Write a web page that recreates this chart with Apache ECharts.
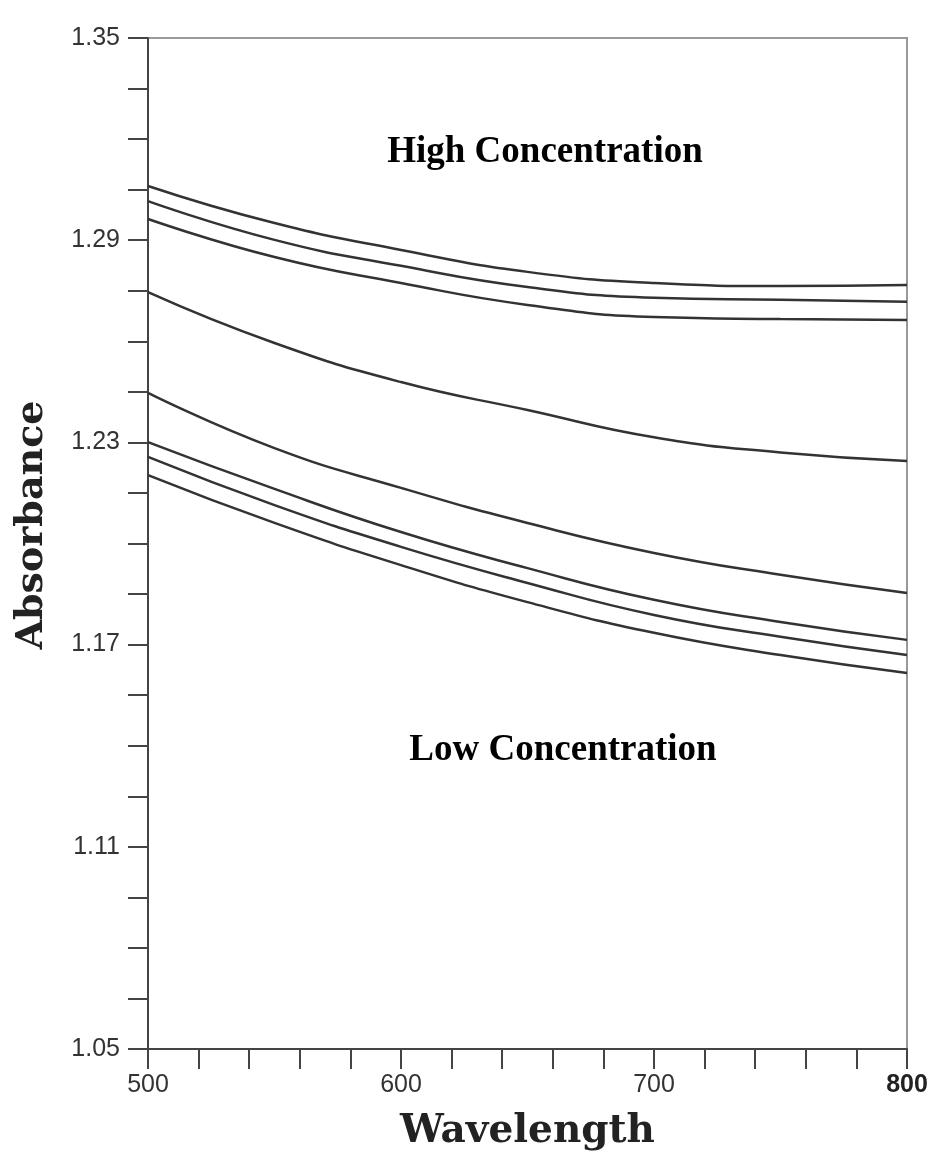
<!DOCTYPE html>
<html>
<head>
<meta charset="utf-8">
<script src="https://cdn.jsdelivr.net/npm/echarts@6/dist/echarts.min.js"></script>
<style>
  html, body { margin: 0; padding: 0; background: #fff; }
  #chart { width: 936px; height: 1172px; }
</style>
</head>
<body>
<div id="chart"></div>
<script>
var myChart = echarts.init(document.getElementById('chart'));

var lineColor = '#333';
var axisColor = '#444';

// wavelength samples (nm)
var wavelengths = [500, 550, 600, 650, 700, 750, 800];

// absorbance curves, top to bottom
var curve1 = [1.3061, 1.2951, 1.2871, 1.2806, 1.2773, 1.2764, 1.2767];
var curve2 = [1.3016, 1.2901, 1.2824, 1.2761, 1.2729, 1.2723, 1.2717];
var curve3 = [1.2963, 1.2850, 1.2773, 1.2708, 1.2672, 1.2666, 1.2663];
var curve4 = [1.2746, 1.2595, 1.2479, 1.2396, 1.2315, 1.2270, 1.2245];
var curve5 = [1.2447, 1.2283, 1.2165, 1.2061, 1.1972, 1.1907, 1.1853];
var curve6 = [1.2301, 1.2162, 1.2034, 1.1927, 1.1833, 1.1767, 1.1714];
var curve7 = [1.2257, 1.2114, 1.1990, 1.1883, 1.1788, 1.1723, 1.1669];
var curve8 = [1.2203, 1.2061, 1.1936, 1.1826, 1.1735, 1.1669, 1.1616];

var curves = [curve1, curve2, curve3, curve4, curve5, curve6, curve7, curve8];

var series = curves.map(function (c) {
    return {
        type: 'line',
        smooth: true,
        symbol: 'none',
        lineStyle: { color: lineColor, width: 2.5 },
        data: wavelengths.map(function (w, i) { return [w, c[i]]; })
    };
});

option = {
    backgroundColor: '#fff',
    animation: false,
    grid: {
        left: 148,
        right: 29,
        top: 38,
        bottom: 123,
        show: true,
        borderColor: '#999',
        borderWidth: 2
    },
    xAxis: {
        type: 'value',
        min: 500,
        max: 800,
        interval: 20,
        name: 'Wavelength',
        nameLocation: 'middle',
        nameGap: 63,
        nameTextStyle: {
            fontFamily: 'DejaVu Serif',
            fontWeight: 'bold',
            fontSize: 39,
            color: '#222'
        },
        axisLine: { lineStyle: { color: axisColor, width: 2 } },
        axisTick: { length: 20, lineStyle: { color: axisColor, width: 2 } },
        axisLabel: {
            margin: 24,
            fontFamily: 'Liberation Sans',
            fontSize: 25,
            color: '#333',
            formatter: function (v) {
                if (v % 100 !== 0) return '';
                return v === 800 ? '{b|800}' : String(v);
            },
            rich: {
                b: { fontFamily: 'Liberation Sans', fontSize: 25, fontWeight: 'bold', color: '#222' }
            }
        },
        splitLine: { show: false }
    },
    yAxis: {
        type: 'value',
        min: 1.05,
        max: 1.35,
        interval: 0.015,
        axisLine: { lineStyle: { color: axisColor, width: 2 } },
        axisTick: { length: 20, lineStyle: { color: axisColor, width: 2 } },
        axisLabel: {
            margin: 28,
            fontFamily: 'Liberation Sans',
            fontSize: 25,
            color: '#333',
            padding: [0, 0, 10, 0],
            formatter: function (v) {
                var k = Math.round((v - 1.05) / 0.015);
                return k % 4 === 0 ? v.toFixed(2) : '';
            }
        },
        splitLine: { show: false }
    },
    graphic: [{
        type: 'text',
        x: 32,
        y: 525,
        rotation: Math.PI / 2,
        style: {
            text: 'Absorbance',
            font: 'bold 38px "DejaVu Serif"',
            fill: '#222',
            align: 'center',
            verticalAlign: 'middle'
        }
    }, {
        type: 'text',
        x: 545,
        y: 152,
        style: {
            text: 'High Concentration',
            font: 'bold 37px "Liberation Serif"',
            fill: '#000',
            align: 'center',
            verticalAlign: 'middle'
        }
    }, {
        type: 'text',
        x: 563,
        y: 750,
        style: {
            text: 'Low Concentration',
            font: 'bold 37px "Liberation Serif"',
            fill: '#000',
            align: 'center',
            verticalAlign: 'middle'
        }
    }],
    series: series
};
myChart.setOption(option);
</script>
</body>
</html>
